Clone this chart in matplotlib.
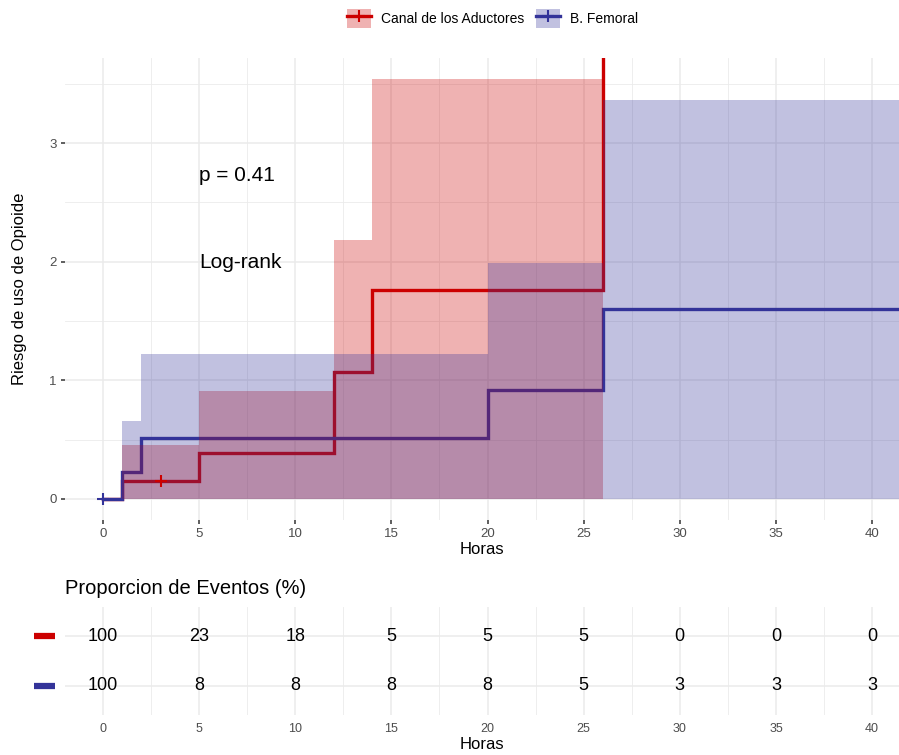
import matplotlib
matplotlib.use("Agg")
import matplotlib.pyplot as plt
from matplotlib.patches import Patch
from matplotlib.lines import Line2D
from matplotlib.legend_handler import HandlerTuple
import matplotlib.transforms as mtransforms

plt.rcParams['font.family'] = ['Liberation Sans', 'DejaVu Sans']

# Datos: riesgo acumulado (escalones) y bandas de confianza
grupos = ["Canal de los Aductores", "B. Femoral"]
colores = ["#CC0000", "#333399"]

t_canal = [0, 1, 5, 12, 14, 26]
h_canal = [0, 0.154, 0.384, 1.07, 1.76, 50]
t_banda_canal = [1, 5, 12, 14, 26]
sup_canal = [0.456, 0.907, 2.18, 3.54, 3.54]
inf_canal = [0, 0, 0, 0, 0]
censura_canal_t = [3]
censura_canal_h = [0.154]

t_femoral = [0, 1, 2, 20, 26, 45]
h_femoral = [0, 0.227, 0.51, 0.92, 1.60, 1.60]
t_banda_femoral = [1, 2, 20, 26, 45]
sup_femoral = [0.655, 1.22, 1.99, 3.36, 3.36]
inf_femoral = [0, 0, 0, 0, 0]
censura_femoral_t = [0]
censura_femoral_h = [0]

# Tabla de proporcion de eventos
horas_tabla = [0, 5, 10, 15, 20, 25, 30, 35, 40]
prop_canal = [100, 23, 18, 5, 5, 5, 0, 0, 0]
prop_femoral = [100, 8, 8, 8, 8, 5, 3, 3, 3]

x_ticks = [0, 5, 10, 15, 20, 25, 30, 35, 40]
x_minor = [2.5, 7.5, 12.5, 17.5, 22.5, 27.5, 32.5, 37.5]
y_ticks = [0, 1, 2, 3]
y_minor = [0.5, 1.5, 2.5, 3.5]

fig = plt.figure(figsize=(8.99, 7.55), dpi=100)
ax = fig.add_axes([0.0723, 0.3113, 0.9277, 0.6119])
ax_t = fig.add_axes([0.0723, 0.0530, 0.9277, 0.1430])

gris_grid = "#EBEBEB"

def estilo_grid(a):
    a.set_axisbelow(True)
    for s in a.spines.values():
        s.set_visible(False)
    a.grid(which='major', color=gris_grid, lw=1.1, zorder=0)
    a.grid(which='minor', color=gris_grid, lw=0.6, zorder=0)

# ---- Grafico principal ----
estilo_grid(ax)
ax.set_xticks(x_ticks)
ax.set_xticks(x_minor, minor=True)
ax.set_yticks(y_ticks)
ax.set_yticks(y_minor, minor=True)
ax.set_xlim(-1.975, 41.4)
ax.set_ylim(-0.177, 3.717)
ax.tick_params(which='major', length=3, width=1.1, color='#333333',
               labelcolor='#4D4D4D', labelsize=9.5, pad=3)
ax.tick_params(which='minor', length=0)

# lineas (debajo de las bandas)
ax.step(t_canal, h_canal, where='post', color=colores[0], lw=2.4, zorder=2,
        solid_joinstyle='miter')
ax.step(t_femoral, h_femoral, where='post', color=colores[1], lw=2.4, zorder=2,
        solid_joinstyle='miter')

# bandas
ax.fill_between(t_banda_canal, inf_canal, sup_canal, step='post',
                color=colores[0], alpha=0.3, lw=0, zorder=3)
ax.fill_between(t_banda_femoral, inf_femoral, sup_femoral, step='post',
                color=colores[1], alpha=0.3, lw=0, zorder=3)

# censuras
ax.plot(censura_canal_t, censura_canal_h, ls='none', marker='+', ms=9,
        mew=1.5, color=colores[0], zorder=4)
ax.plot(censura_femoral_t, censura_femoral_h, ls='none', marker='+', ms=9,
        mew=1.5, color=colores[1], zorder=4)

ax.text(5, 2.73, "p = 0.41", fontsize=15, ha='left', va='center')
ax.text(5, 1.99, "Log-rank", fontsize=15, ha='left', va='center')

ax.set_xlabel("Horas", fontsize=12, labelpad=1)
ax.set_ylabel("Riesgo de uso de Opioide", fontsize=12)
ax.yaxis.set_label_coords(-0.045, 0.5)

# leyenda
handles = []
for c in colores:
    handles.append((Patch(facecolor=c, alpha=0.3, lw=0),
                    Line2D([], [], color=c, lw=2.4, marker='+', ms=9, mew=1.5)))
fig.legend(handles, grupos, handler_map={tuple: HandlerTuple(ndivide=1, pad=0)},
           loc='center', bbox_to_anchor=(0.548, 0.976), ncol=2, frameon=False,
           fontsize=10, handlelength=1.73, handleheight=1.73,
           handletextpad=0.72, columnspacing=0.8)

# ---- Tabla ----
estilo_grid(ax_t)
ax_t.set_xticks(x_ticks)
ax_t.set_xticks(x_minor, minor=True)
ax_t.set_yticks([1, 2])
ax_t.set_yticklabels([])
ax_t.set_xlim(-1.975, 41.4)
ax_t.set_ylim(0.4, 2.6)
ax_t.tick_params(which='both', length=0)
ax_t.tick_params(axis='x', labelcolor='#4D4D4D', labelsize=9, pad=6)

for x, v in zip(horas_tabla, prop_canal):
    ax_t.text(x, 2, str(v), fontsize=13, ha='center', va='center')
for x, v in zip(horas_tabla, prop_femoral):
    ax_t.text(x, 1, str(v), fontsize=13, ha='center', va='center')

trans = mtransforms.blended_transform_factory(ax_t.transAxes, ax_t.transData)
for yv, c in zip([2, 1], colores):
    ax_t.plot([-0.037, -0.012], [yv, yv], transform=trans, color=c, lw=4.5,
              solid_capstyle='butt', clip_on=False)

ax_t.set_xlabel("Horas", fontsize=12, labelpad=1)
fig.text(65 / 899, 1 - 588 / 755, "Proporcion de Eventos (%)", fontsize=14.5,
         ha='left', va='center')

fig.savefig("out.png", dpi=100)
